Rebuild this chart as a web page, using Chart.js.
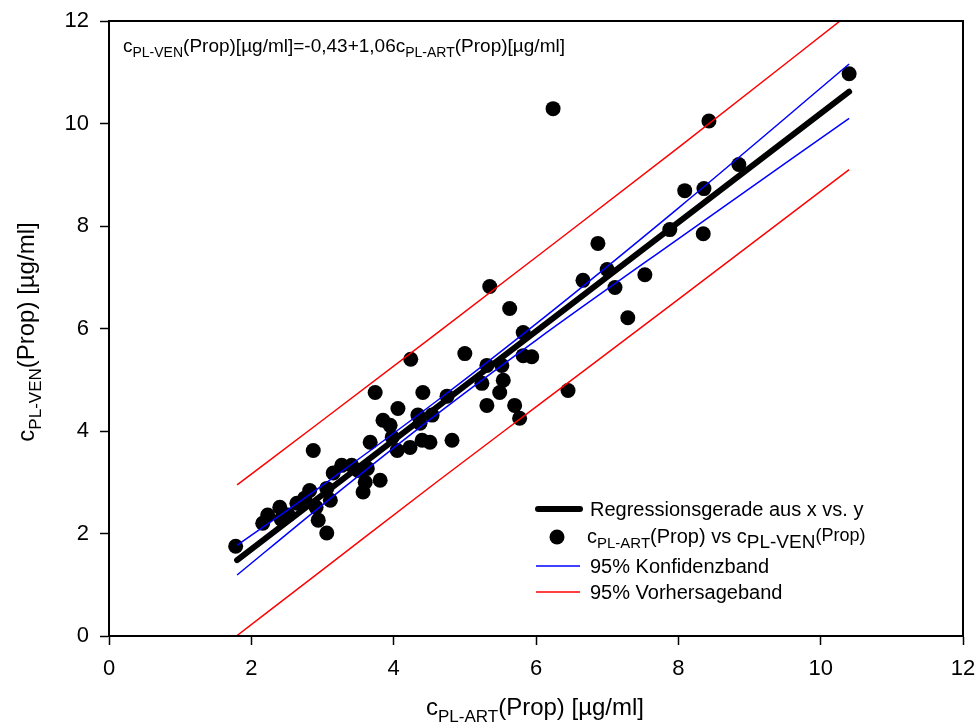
<!DOCTYPE html>
<html>
<head>
<meta charset="utf-8">
<script src="https://cdn.jsdelivr.net/npm/chart.js@4"></script>
<style>
  html, body { margin: 0; padding: 0; background: #fff; }
  #wrap { width: 977px; height: 725px; }
</style>
</head>
<body>
<div id="wrap"><canvas id="chart" width="977" height="725"></canvas></div>
<script>
// measured values: c_PL-ART (x) vs c_PL-VEN (y)
const artX = [1.78, 2.16, 2.23, 2.40, 2.42, 2.52, 2.64, 2.75, 2.82, 2.87, 2.94, 2.91, 3.06, 3.11, 3.06,
    3.15, 3.27, 3.41, 3.50, 3.57, 3.60, 3.81, 3.67, 3.63, 3.74, 3.85, 3.95, 3.98, 4.06, 4.05, 4.23,
    4.34, 4.37, 4.54, 4.40, 4.51, 4.41, 4.24, 4.75, 4.82, 5.00, 5.31, 5.52, 5.24, 5.54, 5.49, 5.31,
    5.70, 5.77, 5.35, 5.63, 5.82, 5.82, 5.94, 6.24, 6.45, 6.66, 6.87, 7.00, 7.11, 7.29, 7.53, 7.88,
    8.09, 8.35, 8.36, 8.43, 8.85, 10.40];
const venY = [1.75, 2.20, 2.36, 2.51, 2.28, 2.36, 2.59, 2.69, 2.84, 3.62, 2.26, 2.51, 2.01, 2.65, 2.88,
    3.18, 3.33, 3.33, 3.23, 2.81, 3.00, 3.04, 3.78, 3.27, 4.75, 4.21, 4.11, 3.88, 4.44, 3.62, 3.68,
    4.31, 4.15, 4.31, 3.82, 3.78, 4.75, 5.40, 4.68, 3.82, 5.51, 5.28, 5.28, 4.93, 4.99, 4.75, 4.50,
    4.50, 4.25, 6.82, 6.39, 5.92, 5.47, 5.45, 10.29, 4.79, 6.94, 7.66, 7.15, 6.80, 6.21, 7.05, 7.93,
    8.69, 7.85, 8.73, 10.05, 9.20, 10.97];

// regression line and bands, read at these x positions
const bandX = [1.8, 3, 4.6, 6, 8, 10.4];
const regY = [1.48, 2.75, 4.45, 5.93, 8.05, 10.62];
const confUpper = [1.77, 2.94, 4.58, 6.09, 8.35, 11.16];
const confLower = [1.19, 2.56, 4.32, 5.77, 7.75, 10.10];
const predUpper = [2.95, 4.21, 5.90, 7.39, 9.53, 12.14];
const predLower = [0.01, 1.29, 3.00, 4.47, 6.57, 9.10];

const xTicks = [0, 2, 4, 6, 8, 10, 12];
const yTicks = [0, 2, 4, 6, 8, 10, 12];

const FONT = '"Liberation Sans", Arial, sans-serif';
Chart.defaults.font.family = FONT;
Chart.defaults.color = '#000';

const pairs = (xs, ys) => xs.map((x, i) => ({ x: x, y: ys[i] }));

// draw text made of pieces with different size / vertical offset
const drawRich = (ctx, parts, x, y, rotate, align) => {
    ctx.save();
    ctx.translate(x, y);
    if (rotate) ctx.rotate(-Math.PI / 2);
    let total = 0;
    parts.forEach(p => {
        ctx.font = p.s + 'px ' + FONT;
        p.w = ctx.measureText(p.t).width;
        total += p.w;
    });
    let cx = align === 'center' ? -total / 2 : 0;
    ctx.fillStyle = '#000';
    ctx.textBaseline = 'alphabetic';
    ctx.textAlign = 'left';
    parts.forEach(p => {
        ctx.font = p.s + 'px ' + FONT;
        ctx.fillText(p.t, cx, p.dy || 0);
        cx += p.w;
    });
    ctx.restore();
};

const decor = {
    id: 'decor',
    afterDraw(chart) {
        const ctx = chart.ctx;
        const a = chart.chartArea;
        // frame
        ctx.save();
        ctx.strokeStyle = '#000';
        ctx.lineWidth = 2;
        ctx.strokeRect(a.left, a.top, a.right - a.left, a.bottom - a.top);
        ctx.restore();

        // axis titles
        drawRich(ctx, [
            { t: 'c', s: 24 },
            { t: 'PL-ART', s: 17, dy: 7 },
            { t: '(Prop) [µg/ml]', s: 24 }
        ], 535, 715, false, 'center');
        drawRich(ctx, [
            { t: 'c', s: 24 },
            { t: 'PL-VEN', s: 17, dy: 7 },
            { t: '(Prop) [µg/ml]', s: 24 }
        ], 34, 332, true, 'center');

        // equation
        drawRich(ctx, [
            { t: 'c', s: 19 },
            { t: 'PL-VEN', s: 14, dy: 5 },
            { t: '(Prop)[µg/ml]=-0,43+1,06c', s: 19 },
            { t: 'PL-ART', s: 14, dy: 5 },
            { t: '(Prop)[µg/ml]', s: 19 }
        ], 123, 52, false, 'left');

        // legend
        ctx.save();
        ctx.lineCap = 'round';
        ctx.strokeStyle = '#000';
        ctx.lineWidth = 6;
        ctx.beginPath(); ctx.moveTo(538, 509); ctx.lineTo(580, 509); ctx.stroke();
        ctx.lineCap = 'butt';
        ctx.fillStyle = '#000';
        ctx.beginPath(); ctx.arc(557, 537, 7.5, 0, Math.PI * 2); ctx.fill();
        ctx.lineWidth = 1.5;
        ctx.strokeStyle = '#0000ff';
        ctx.beginPath(); ctx.moveTo(536, 566); ctx.lineTo(580, 566); ctx.stroke();
        ctx.strokeStyle = '#ff0000';
        ctx.beginPath(); ctx.moveTo(536, 592); ctx.lineTo(580, 592); ctx.stroke();
        ctx.restore();
        drawRich(ctx, [{ t: 'Regressionsgerade aus x vs. y', s: 20 }], 590, 516, false, 'left');
        drawRich(ctx, [
            { t: 'c', s: 20 },
            { t: 'PL-ART', s: 15, dy: 5 },
            { t: '(Prop) vs c', s: 20 },
            { t: 'PL-VEN', s: 19, dy: 5 },
            { t: '(Prop)', s: 18, dy: -2 }
        ], 587, 543, false, 'left');
        drawRich(ctx, [{ t: '95% Konfidenzband', s: 20 }], 590, 573, false, 'left');
        drawRich(ctx, [{ t: '95% Vorhersageband', s: 20 }], 590, 599, false, 'left');
    }
};

const lineSet = (data, color, width) => ({
    type: 'line',
    data: data,
    borderColor: color,
    borderWidth: width,
    pointRadius: 0,
    fill: false,
    cubicInterpolationMode: 'monotone'
});

new Chart(document.getElementById('chart'), {
    type: 'scatter',
    data: {
        datasets: [
            lineSet(pairs(bandX, predUpper), '#ff0000', 1.5),
            lineSet(pairs(bandX, predLower), '#ff0000', 1.5),
            lineSet(pairs(bandX, confUpper), '#0000ff', 1.5),
            lineSet(pairs(bandX, confLower), '#0000ff', 1.5),
            Object.assign(lineSet(pairs([bandX[0], bandX[bandX.length - 1]], [regY[0], regY[regY.length - 1]]), '#000', 6),
                { borderCapStyle: 'round' }),
            {
                data: pairs(artX, venY),
                backgroundColor: '#000',
                borderColor: '#000',
                pointRadius: 7.5,
                pointBorderWidth: 0
            }
        ]
    },
    options: {
        responsive: false,
        animation: false,
        events: [],
        layout: { padding: { top: 21, right: 14, left: 0, bottom: 0 } },
        plugins: { legend: { display: false }, tooltip: { enabled: false } },
        scales: {
            x: {
                type: 'linear', min: 0, max: 12,
                afterFit: s => { s.height = 89; s.paddingLeft = 0; s.paddingRight = 0; },
                afterBuildTicks: s => { s.ticks = xTicks.map(v => ({ value: v })); },
                ticks: { font: { size: 22 }, color: '#000', padding: 11, maxRotation: 0 },
                grid: { drawOnChartArea: false, drawTicks: true, tickLength: 9, tickColor: '#000', tickWidth: 1.5 },
                border: { display: true, color: '#000', width: 2 }
            },
            y: {
                type: 'linear', min: 0, max: 12,
                afterFit: s => { s.width = 109; s.paddingTop = 0; s.paddingBottom = 0; },
                afterBuildTicks: s => { s.ticks = yTicks.map(v => ({ value: v })); },
                ticks: { font: { size: 22 }, color: '#000', padding: 11 },
                grid: { drawOnChartArea: false, drawTicks: true, tickLength: 9, tickColor: '#000', tickWidth: 1.5 },
                border: { display: true, color: '#000', width: 2 }
            }
        }
    },
    plugins: [decor]
});
</script>
</body>
</html>
